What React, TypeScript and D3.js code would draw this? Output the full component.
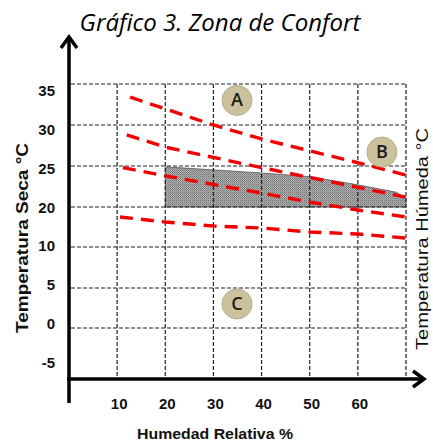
import React from 'react';
import * as d3 from 'd3';

// axis ticks
const humidityTicks = [10, 20, 30, 40, 50, 60];
const tempTicks = [35, 30, 25, 20, 10, 5, 0, -5];
const gridTemps = [35, 30, 25, 20, 10, 5, 0];

// wet-bulb lines (humidity %, dry temp °C)
const wet1H = [12.7, 30, 40, 60, 70];
const wet1T = [33.4, 30.0, 28.3, 25.4, 23.9];
const wet2H = [12, 20, 40, 60, 70];
const wet2T = [28.8, 27.3, 24.8, 22.4, 21.2];
const wet3H = [11.2, 20, 40, 50, 60, 70];
const wet3T = [24.8, 23.8, 21.7, 20.6, 19.25, 17.5];
const wet4H = [10.6, 20, 30, 40, 50, 60, 70];
const wet4T = [17.5, 16.25, 15.25, 14.75, 13.75, 13.25, 12.25];

// comfort zone outline
const zoneH = [20, 40, 50, 60, 68, 70, 70, 20];
const zoneT = [24.9, 24.15, 23.7, 22.7, 21.8, 21.0, 20, 20];

// zone markers
const zoneLabels = ['A', 'B', 'C'];
const zoneLabelH = [34.9, 65, 34.9];
const zoneLabelT = [33.0, 26.7, 3.0];

const W = 433;
const H = 443;

export default function App() {
  const x = d3.scaleLinear().domain([0, 70]).range([69, 406]);
  // the temperature axis skips 15, so it is piecewise
  const y = d3.scaleLinear()
    .domain([35, 30, 25, 20, 10, 5, 0])
    .range([84, 125, 166, 207, 247, 288, 328]);
  const yLabel = d3.scalePoint<number>().domain(tempTicks).range([91, 363]);

  const xAxisY = 379;
  const line = d3.line<[number, number]>()
    .x((d) => x(d[0]))
    .y((d) => y(d[1]));

  const wetLines = [
    [wet1H, wet1T],
    [wet2H, wet2T],
    [wet3H, wet3T],
    [wet4H, wet4T],
  ].map(([hs, ts]) => hs.map((h, i) => [h, ts[i]] as [number, number]));

  const zonePts = zoneH.map((h, i) => [h, zoneT[i]] as [number, number]);

  const boldFont = '"Liberation Sans", Arial, sans-serif';

  return (
    <svg width={W} height={H} style={{ position: 'absolute', left: 0, top: 0, background: '#fff' }}>
      <defs>
        <pattern id="stipple" width="2" height="2" patternUnits="userSpaceOnUse">
          <rect width="2" height="2" fill="#b4b4b4" />
          <rect width="1" height="1" fill="#6e6e6e" />
          <rect x="1" y="1" width="1" height="1" fill="#8a8a8a" />
        </pattern>
      </defs>

      <text x={220} y={31} textAnchor="middle" fontFamily='"Open Sans", sans-serif'
        fontStyle="italic" fontSize={24} fill="#000">
        Gráfico 3. Zona de Confort
      </text>

      {/* comfort zone */}
      <path d={line.curve(d3.curveLinearClosed)(zonePts) ?? ''} fill="url(#stipple)"
        stroke="#555" strokeWidth={0.8} />

      {/* grid */}
      {gridTemps.map((t) => (
        <line key={'h' + t} x1={x(0) + 2} x2={x(70)} y1={y(t)} y2={y(t)}
          stroke="#222" strokeWidth={1.2} strokeDasharray="4,2" />
      ))}
      {[...humidityTicks, 70].map((h) => (
        <line key={'v' + h} x1={x(h)} x2={x(h)} y1={y(35)} y2={xAxisY}
          stroke="#222" strokeWidth={1.2} strokeDasharray="4,2" />
      ))}

      {/* wet-bulb lines */}
      {wetLines.map((pts, i) => (
        <path key={'w' + i} d={line.curve(d3.curveLinear)(pts) ?? ''} fill="none"
          stroke="#f00000" strokeWidth={3.4} strokeDasharray="13,8" />
      ))}

      {/* zone markers */}
      {zoneLabels.map((l, i) => (
        <g key={l} transform={`translate(${x(zoneLabelH[i])},${y(zoneLabelT[i])})`}>
          <circle r={15} fill="#cbc19c" stroke="#b5ab86" strokeWidth={1} />
          <text y={6} textAnchor="middle" fontFamily='"Open Sans", sans-serif'
            fontWeight={600} fontSize={18} fill="#1a1a1a">{l}</text>
        </g>
      ))}

      {/* axes */}
      <line x1={x(0)} x2={x(0)} y1={37} y2={403} stroke="#000" strokeWidth={3.5} />
      <polyline points={`${x(0) - 8},${48} ${x(0)},${37} ${x(0) + 8},${48}`}
        fill="none" stroke="#000" strokeWidth={3.5} />
      <line x1={x(0) - 2} x2={423} y1={xAxisY} y2={xAxisY} stroke="#000" strokeWidth={3.5} />
      <polyline points={`${413},${xAxisY - 8} ${424},${xAxisY} ${413},${xAxisY + 8}`}
        fill="none" stroke="#000" strokeWidth={3.5} />

      {/* tick labels */}
      {tempTicks.map((t) => (
        <text key={'yl' + t} x={55} y={(yLabel(t) ?? 0) + 5} textAnchor="end"
          fontFamily={boldFont} fontWeight="bold" fontSize={15} fill="#111">{t}</text>
      ))}
      {humidityTicks.map((h) => (
        <text key={'xl' + h} x={x(h) + 2} y={409} textAnchor="middle"
          fontFamily={boldFont} fontWeight="bold" fontSize={15} fill="#111">{h}</text>
      ))}

      {/* axis titles */}
      <text x={215} y={439} textAnchor="middle" fontFamily={boldFont} fontWeight="bold"
        fontSize={15} fill="#111" textLength={156} lengthAdjust="spacingAndGlyphs">
        Humedad Relativa %
      </text>
      <text transform="translate(28,238) rotate(-90)" textAnchor="middle" fontFamily={boldFont}
        fontWeight="bold" fontSize={16} fill="#111" textLength={190} lengthAdjust="spacingAndGlyphs">
        Temperatura Seca °C
      </text>
      <text transform="translate(428,239) rotate(-90)" textAnchor="middle" fontFamily={boldFont}
        fontSize={16} fill="#111" textLength={222} lengthAdjust="spacingAndGlyphs">
        Temperatura Húmeda °C
      </text>
    </svg>
  );
}
